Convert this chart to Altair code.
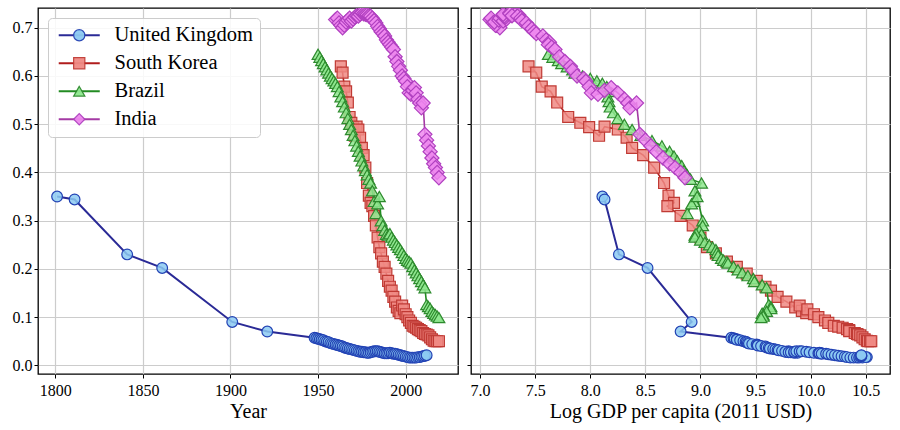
import altair as alt
import pandas as pd

countries = ["United Kingdom", "South Korea", "Brazil", "India"]
codes = ["GBR", "KOR", "BRA", "IND"]

# ---- United Kingdom ----
uk_year = [1801, 1811, 1841, 1861, 1901, 1921] + list(range(1948, 2013))
uk_share = [0.350, 0.344, 0.230, 0.202, 0.090, 0.070,
            0.057, 0.056, 0.055, 0.054, 0.053, 0.052, 0.050, 0.049, 0.048, 0.046,
            0.045, 0.044, 0.043, 0.042, 0.041, 0.040, 0.039, 0.037, 0.036, 0.035,
            0.034, 0.033, 0.032, 0.031, 0.030, 0.029, 0.028, 0.028, 0.027, 0.027,
            0.026, 0.026, 0.027, 0.028, 0.029, 0.029, 0.029, 0.028, 0.027, 0.026,
            0.025, 0.025, 0.025, 0.026, 0.025, 0.024, 0.024, 0.023, 0.022, 0.021,
            0.020, 0.019, 0.018, 0.017, 0.016, 0.016, 0.016, 0.016, 0.016, 0.017,
            0.017, 0.018, 0.019, 0.020, 0.021]
uk_gdp = [8.11, 8.13, 8.26, 8.52, 8.92, 8.82,
          9.28, 9.30, 9.31, 9.33, 9.33, 9.36, 9.39, 9.41, 9.42, 9.43,
          9.44, 9.47, 9.51, 9.52, 9.52, 9.55, 9.59, 9.60, 9.62, 9.63,
          9.66, 9.68, 9.70, 9.71, 9.74, 9.80, 9.78, 9.77, 9.80, 9.82,
          9.85, 9.88, 9.86, 9.85, 9.87, 9.90, 9.92, 9.96, 9.99, 10.03,
          10.07, 10.09, 10.10, 10.08, 10.08, 10.10, 10.14, 10.16, 10.19, 10.22,
          10.25, 10.28, 10.31, 10.33, 10.36, 10.39, 10.42, 10.44, 10.47, 10.51,
          10.50, 10.45, 10.46, 10.46, 10.46]

# ---- South Korea ----
kr_year = list(range(1963, 2020))
kr_share = [0.620, 0.607, 0.578, 0.568, 0.545, 0.515, 0.503, 0.494, 0.476, 0.495,
            0.489, 0.472, 0.451, 0.436, 0.410, 0.378, 0.352, 0.337, 0.330, 0.310,
            0.290, 0.265, 0.245, 0.232, 0.215, 0.204, 0.190, 0.175, 0.163, 0.155,
            0.142, 0.132, 0.120, 0.113, 0.108, 0.124, 0.116, 0.106, 0.100, 0.093,
            0.088, 0.082, 0.080, 0.078, 0.075, 0.073, 0.071, 0.067, 0.065, 0.064,
            0.062, 0.058, 0.054, 0.051, 0.050, 0.050, 0.050]
kr_gdp = [7.44, 7.51, 7.56, 7.64, 7.70, 7.80, 7.91, 7.99, 8.08, 8.13,
          8.25, 8.33, 8.38, 8.48, 8.58, 8.67, 8.71, 8.76, 8.70, 8.82,
          8.93, 9.00, 9.06, 9.14, 9.24, 9.33, 9.42, 9.51, 9.59, 9.64,
          9.70, 9.78, 9.86, 9.92, 9.96, 9.90, 9.97, 10.03, 10.07, 10.13,
          10.16, 10.21, 10.25, 10.29, 10.33, 10.35, 10.35, 10.40, 10.42, 10.43,
          10.45, 10.47, 10.49, 10.51, 10.52, 10.54, 10.55]

# ---- Brazil ----
br_year = list(range(1950, 2020))
br_share = [0.645, 0.639, 0.632, 0.626, 0.619, 0.613, 0.606, 0.600, 0.595, 0.590,
            0.585, 0.578, 0.568, 0.557, 0.547, 0.536, 0.524, 0.512, 0.500, 0.489,
            0.477, 0.466, 0.455, 0.444, 0.434, 0.424, 0.414, 0.404, 0.395, 0.386,
            0.378, 0.362, 0.340, 0.315, 0.335, 0.350, 0.300, 0.290, 0.280, 0.272,
            0.270, 0.273, 0.266, 0.260, 0.255, 0.250, 0.245, 0.240, 0.234, 0.228,
            0.222, 0.218, 0.215, 0.212, 0.205, 0.198, 0.192, 0.186, 0.180, 0.174,
            0.167, 0.161, 0.126, 0.122, 0.118, 0.112, 0.108, 0.105, 0.102, 0.099]
br_gdp = [7.62, 7.66, 7.71, 7.74, 7.79, 7.84, 7.86, 7.93, 8.00, 8.06,
          8.11, 8.15, 8.17, 8.16, 8.17, 8.18, 8.21, 8.25, 8.31, 8.38,
          8.46, 8.56, 8.65, 8.72, 8.76, 8.79, 8.83, 8.85, 8.88, 8.91,
          9.01, 8.95, 8.94, 8.88, 8.92, 8.97, 9.02, 9.02, 8.99, 9.01,
          8.95, 8.96, 8.95, 9.00, 9.04, 9.08, 9.11, 9.14, 9.15, 9.16,
          9.19, 9.21, 9.24, 9.25, 9.30, 9.34, 9.38, 9.43, 9.48, 9.49,
          9.56, 9.60, 9.62, 9.64, 9.64, 9.60, 9.56, 9.57, 9.57, 9.55]

# ---- India ----
in_year = list(range(1960, 2020))
in_share = [0.717, 0.720, 0.710, 0.705, 0.700, 0.705, 0.712, 0.716, 0.720, 0.714,
            0.718, 0.722, 0.725, 0.724, 0.728, 0.731, 0.729, 0.728, 0.727, 0.725,
            0.724, 0.720, 0.715, 0.710, 0.703, 0.698, 0.692, 0.688, 0.683, 0.675,
            0.670, 0.665, 0.660, 0.655, 0.640, 0.630, 0.620, 0.612, 0.600, 0.595,
            0.589, 0.578, 0.565, 0.562, 0.570, 0.576, 0.565, 0.552, 0.544, 0.534,
            0.544, 0.479, 0.467, 0.455, 0.443, 0.430, 0.418, 0.410, 0.400, 0.389]
in_gdp = [7.09, 7.10, 7.12, 7.15, 7.18, 7.14, 7.13, 7.17, 7.18, 7.21,
          7.24, 7.23, 7.21, 7.22, 7.21, 7.27, 7.27, 7.32, 7.35, 7.29,
          7.34, 7.37, 7.38, 7.42, 7.44, 7.47, 7.49, 7.51, 7.57, 7.60,
          7.63, 7.62, 7.65, 7.68, 7.72, 7.77, 7.82, 7.84, 7.88, 7.94,
          7.96, 7.99, 8.01, 8.07, 8.13, 8.19, 8.25, 8.31, 8.34, 8.36,
          8.42, 8.45, 8.50, 8.55, 8.60, 8.66, 8.72, 8.77, 8.82, 8.86]

line_colors = ["#2a2a96", "#b01c1c", "#228b22", "#a43aa4"]
edge_colors = ["#2242b4", "#c03a34", "#2e8b2e", "#b040c0"]
face_colors = ["#8ccaf2", "#f08a84", "#8fe88f", "#ee88ee"]
shapes = ["circle", "square", "triangle-up", "diamond"]
sizes = [115, 120, 140, 200]
line_widths = [2.0, 1.6, 1.6, 1.6]

rows = []
for name, code, yrs, sh, gd in [
    ("United Kingdom", "GBR", uk_year, uk_share, uk_gdp),
    ("South Korea", "KOR", kr_year, kr_share, kr_gdp),
    ("Brazil", "BRA", br_year, br_share, br_gdp),
    ("India", "IND", in_year, in_share, in_gdp),
]:
    for yv, s, g in zip(yrs, sh, gd):
        rows.append({"country": name, "code": code, "year": yv, "share": s, "gdp": g})
df = pd.DataFrame(rows)

FONT = "Liberation Serif"
y_scale = alt.Scale(domain=[-0.018, 0.741], nice=False, zero=False)
y_ticks = [0.0, 0.1, 0.2, 0.3, 0.4, 0.5, 0.6, 0.7]

# legend drawn as two stacked guides: a wide line swatch with the labels
# and frame, and the marker glyphs placed over the middle of each swatch
line_legend = alt.Legend(
    orient="none", legendX=10, legendY=10, title=None,
    symbolType="M-3,0H3", symbolSize=187, symbolStrokeWidth=2,
    symbolOffset=14,
    labelFont=FONT, labelFontSize=20.5, labelColor="black", labelOffset=25,
    rowPadding=7, padding=7, fillColor="rgba(255,255,255,0.85)",
    strokeColor="#cccccc", cornerRadius=4, labelLimit=300, zindex=0,
)
marker_legend = alt.Legend(
    orient="none", legendX=24, legendY=10, title=None,
    symbolSize=125, symbolStrokeWidth=1.2, symbolOpacity=0.95,
    labelFont=FONT, labelFontSize=20.5, labelExpr="''", labelOffset=16,
    rowPadding=7, padding=7, zindex=1,
)


def panel(xfield, xdomain, xticks, xformat, xtitle, width, left):
    x = alt.X(f"{xfield}:Q",
              scale=alt.Scale(domain=xdomain, nice=False, zero=False),
              axis=alt.Axis(values=xticks, format=xformat, title=xtitle,
                            labelFont=FONT, labelFontSize=16, titleFont=FONT,
                            labelPadding=4, titlePadding=3))
    if left:
        yaxis = alt.Axis(values=y_ticks, format=".1f", title=None,
                         labelFont=FONT, labelFontSize=16,
                         minExtent=34, maxExtent=34)
    else:
        yaxis = alt.Axis(values=y_ticks, labels=False, title=None,
                         minExtent=4, maxExtent=4)
    y = alt.Y("share:Q", scale=y_scale, axis=yaxis)
    color = alt.Color("country:N",
                      scale=alt.Scale(domain=countries, range=line_colors),
                      legend=line_legend if left else None)
    shape = alt.Shape("code:N", scale=alt.Scale(domain=codes, range=shapes),
                      legend=marker_legend if left else None)
    fill = alt.Fill("code:N", scale=alt.Scale(domain=codes, range=face_colors),
                    legend=marker_legend if left else None)
    stroke = alt.Stroke("code:N", scale=alt.Scale(domain=codes, range=edge_colors),
                        legend=marker_legend if left else None)
    layers = []
    for i, c in enumerate(countries):
        base = alt.Chart(df).transform_filter(alt.datum.country == c)
        layers.append(
            base.mark_line(strokeWidth=line_widths[i], clip=True).encode(
                x=x, y=y, color=color, order="year:Q"))
        layers.append(
            base.mark_point(filled=True, clip=True, size=sizes[i], opacity=1,
                            fillOpacity=0.85, strokeWidth=1.2).encode(
                x=x, y=y, shape=shape, fill=fill, stroke=stroke))
    return alt.layer(*layers).properties(width=width, height=366)


left = panel("year", [1790.1, 2029.9], [1800, 1850, 1900, 1950, 2000], "d",
             "Year", 420, True)
right = panel("gdp", [6.918, 10.72], [7.0, 7.5, 8.0, 8.5, 9.0, 9.5, 10.0, 10.5],
              ".1f", "Log GDP per capita (2011 USD)", 419, False)

chart = (
    alt.hconcat(left, right, spacing=6)
    .resolve_legend(color="independent", shape="independent",
                    fill="independent", stroke="independent")
    .properties(padding={"left": 3, "top": 7, "right": 5, "bottom": 2},
                background="white")
    .configure_view(stroke="black", strokeWidth=1.3)
    .configure_axis(labelFont=FONT, labelFontSize=16, labelColor="black",
                    titleFont=FONT, titleFontSize=20, titleFontWeight="normal",
                    titleColor="black", tickColor="black", tickSize=4,
                    tickWidth=1, grid=True, gridColor="#cccccc", gridWidth=1.2,
                    domain=False)
    .configure_legend(labelFont=FONT)
)

chart.save("out.html", embed_options={"renderer": "svg", "actions": False})
